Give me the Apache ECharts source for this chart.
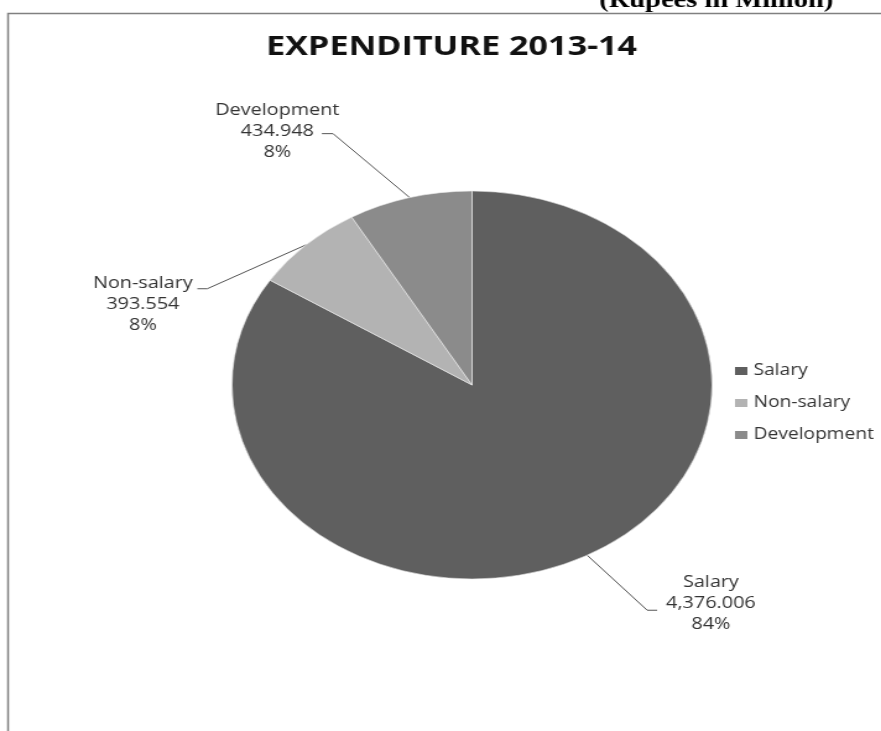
<!DOCTYPE html>
<html>
<head>
<meta charset="utf-8">
<script src="https://cdn.jsdelivr.net/npm/echarts@6/dist/echarts.min.js"></script>
<style>
  html, body { margin: 0; padding: 0; background: #fff; overflow: hidden; }
  #chart { width: 712px; height: 731px; transform: scaleX(1.2374); transform-origin: 0 0; }
</style>
</head>
<body>
<div id="chart"></div>
<script>
// ---- data ----
const titleText = 'EXPENDITURE 2013-14';
const unitText = '(Rupees in Million)';
const categories = ['Salary', 'Non-salary', 'Development'];
const values = [4376.006, 393.554, 434.948];
const colors = ['#5f5f5f', '#b3b3b3', '#8b8b8b'];

// ---- helpers ----
function fmt(v) {
  const parts = v.toFixed(3).split('.');
  parts[0] = parts[0].replace(/\B(?=(\d{3})+(?!\d))/g, ',');
  return parts.join('.');
}

// label placement relative to the slice's edge anchor
const labelPlace = [
  { elbow: [48.5, 55], end: [56.5, 55], text: [100, 48] },
  { elbow: [-80, 44], end: [-88, 44], text: [-132, 60] },
  { elbow: [-62, -64], end: [-71, -64], text: [-107, -66.5] }
];

const chart = echarts.init(document.getElementById('chart'), null, { renderer: 'canvas' });
const cx = 381.5, cy = 385, R = 194;

const option = {
  backgroundColor: '#fff',
  animation: false,
  title: {
    text: titleText,
    left: 215,
    top: 33,
    padding: 0,
    textStyle: { fontFamily: 'Open Sans', fontWeight: 'bold', fontSize: 27.6, color: '#111' }
  },
  graphic: [
    {
      type: 'rect', z: 0, silent: true,
      shape: { x: 6.5, y: 13.5, width: 900, height: 900 },
      style: { fill: 'none', stroke: '#808080', lineWidth: 1.5 }
    },
    {
      type: 'text', z: 10, silent: true,
      x: 673.4, y: 13,
      style: {
        text: unitText,
        font: 'bold 23px "Liberation Serif"',
        fill: '#000',
        align: 'right',
        verticalAlign: 'bottom'
      }
    }
  ],
  legend: {
    orient: 'vertical',
    left: 594,
    top: 363,
    padding: 0,
    icon: 'rect',
    itemWidth: 10,
    itemHeight: 8,
    itemGap: 16,
    itemStyle: { borderWidth: 0 },
    textStyle: { fontFamily: 'Open Sans', fontSize: 15.5, color: '#333', lineHeight: 16 },
    data: categories
  },
  series: [{
    type: 'pie',
    center: [cx, cy],
    radius: R,
    startAngle: 90,
    clockwise: true,
    data: categories.map((c, i) => ({ name: c, value: values[i], itemStyle: { color: colors[i] } })),
    itemStyle: { borderColor: '#ececec', borderWidth: 0.6 },
    label: {
      show: true,
      position: 'outside',
      formatter: p => p.name + '\n' + fmt(p.value) + '\n' + Math.round(p.percent) + '%',
      fontFamily: 'Open Sans',
      fontSize: 16,
      lineHeight: 21,
      color: '#333',
      align: 'center'
    },
    labelLine: {
      show: true,
      length: 20,
      length2: 10,
      smooth: false,
      lineStyle: { color: '#555', width: 1 }
    },
    emphasis: { disabled: true },
    labelLayout: function (params) {
      const i = params.dataIndex;
      const pl = labelPlace[i];
      let a;
      if (params.labelLinePoints && params.labelLinePoints[0]) {
        a = params.labelLinePoints[0];
      } else {
        a = [cx, cy];
      }
      const ax = a[0], ay = a[1];
      return {
        x: ax + pl.text[0],
        y: ay + pl.text[1],
        align: 'center',
        verticalAlign: 'middle',
        labelLinePoints: [
          [ax, ay],
          [ax + pl.elbow[0], ay + pl.elbow[1]],
          [ax + pl.end[0], ay + pl.end[1]]
        ]
      };
    }
  }]
};
chart.setOption(option);
</script>
</body>
</html>
